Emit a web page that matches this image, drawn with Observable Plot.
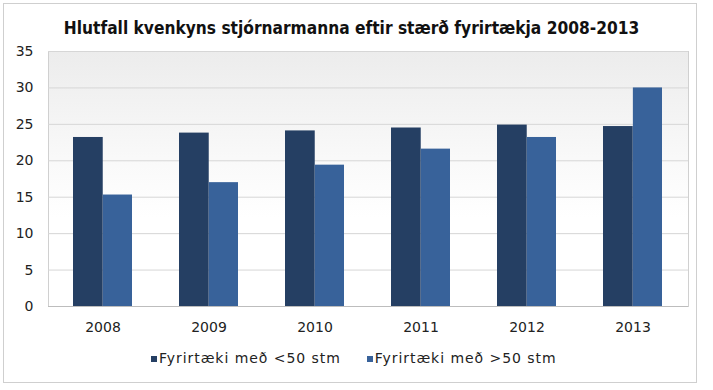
<!DOCTYPE html>
<html>
<head>
<meta charset="utf-8">
<script src="https://cdn.jsdelivr.net/npm/d3@7"></script>
<script src="https://cdn.jsdelivr.net/npm/@observablehq/plot@0.6"></script>
<style>
  html, body { margin: 0; padding: 0; background: #fff; }
  #wrap { position: relative; width: 713px; height: 390px; overflow: hidden; background: #fff; font-family: "DejaVu Sans", Verdana, sans-serif; }
  #border { position: absolute; left: 3px; top: 3px; width: 692px; height: 378px; border: 1px solid #cfcfcf; }
  #title { position: absolute; left: 0; width: 703px; top: 18px; text-align: center; font-family: "DejaVu Sans Condensed", "DejaVu Sans", sans-serif; font-weight: bold; font-size: 17.2px; color: #111; white-space: nowrap; }
  #chart { position: absolute; left: 0; top: 0; }
  #legend { position: absolute; top: 350px; left: 151px; display: flex; font-size: 14px; letter-spacing: 0.95px; color: #222; white-space: nowrap; }
  .item { display: flex; align-items: center; margin-right: 26px; }
  .sw { width: 6px; height: 6px; margin-right: 2px; margin-top: 2px; }
</style>
</head>
<body>
<div id="wrap">
  <div id="border"></div>
  <div id="title">Hlutfall kvenkyns stjórnarmanna eftir stærð fyrirtækja 2008-2013</div>
  <div id="chart"></div>
  <div id="legend"></div>
</div>
<script>
const years = ["2008", "2009", "2010", "2011", "2012", "2013"];
const seriesNames = ["Fyrirtæki með <50 stm", "Fyrirtæki með >50 stm"];
const small = [23.2, 23.8, 24.1, 24.5, 24.9, 24.7];
const large = [15.3, 17.0, 19.4, 21.6, 23.2, 30.0];
const yTicks = [0, 5, 10, 15, 20, 25, 30, 35];
const colors = ["#253f63", "#38629a"];

const smallData = years.map((y, i) => ({year: y, value: small[i]}));
const largeData = years.map((y, i) => ({year: y, value: large[i]}));

const W = 713, H = 335, mL = 48, mR = 25;
const pIn = 0.44, pOut = 0.22;
const step = (W - mL - mR) / (years.length - pIn + 2 * pOut);
const half = step * (1 - pIn) / 2;

const chart = Plot.plot({
  width: W,
  height: H,
  marginTop: 51,
  marginBottom: H - 306,
  marginLeft: mL,
  marginRight: mR,
  style: {fontFamily: "DejaVu Sans, Verdana, sans-serif", fontSize: "14px", color: "#222", background: "transparent"},
  x: {domain: years, paddingInner: pIn, paddingOuter: pOut, label: null},
  y: {domain: [0, 35], label: null},
  marks: [
    Plot.frame({fill: "url(#bgGrad)", stroke: "#d0d0d0"}),
    Plot.gridY(yTicks, {stroke: "#d6d6d6", strokeOpacity: 1}),
    Plot.barY(smallData, {x: "year", y: "value", fill: colors[0], insetRight: half - 0.6}),
    Plot.barY(largeData, {x: "year", y: "value", fill: colors[1], insetLeft: half}),
    Plot.ruleY([0], {stroke: "#bdbdbd"}),
    Plot.axisY({ticks: yTicks, tickSize: 0, tickPadding: 15, label: null}),
    Plot.axisX({tickSize: 0, tickPadding: 16, label: null, style: {letterSpacing: "0.5px"}})
  ]
});

const defs = d3.select(chart).insert("defs", ":first-child");
const g = defs.append("linearGradient").attr("id", "bgGrad").attr("x1", 0).attr("y1", 0).attr("x2", 0).attr("y2", 1);
g.append("stop").attr("offset", "0%").attr("stop-color", "#ececec");
g.append("stop").attr("offset", "45%").attr("stop-color", "#fafafa");
g.append("stop").attr("offset", "65%").attr("stop-color", "#ffffff");
g.append("stop").attr("offset", "100%").attr("stop-color", "#ffffff");

document.getElementById("chart").appendChild(chart);

const legend = document.getElementById("legend");
seriesNames.forEach((name, i) => {
  const item = document.createElement("div");
  item.className = "item";
  const sw = document.createElement("span");
  sw.className = "sw";
  sw.style.background = colors[i];
  const t = document.createElement("span");
  t.textContent = name;
  item.appendChild(sw);
  item.appendChild(t);
  legend.appendChild(item);
});
</script>
</body>
</html>
